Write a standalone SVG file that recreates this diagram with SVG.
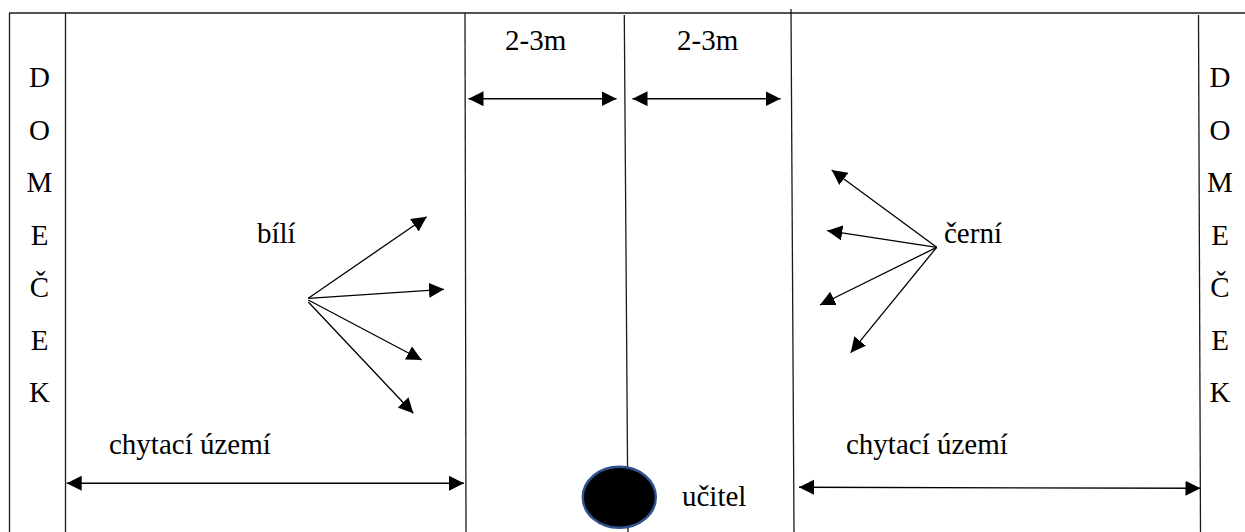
<svg xmlns="http://www.w3.org/2000/svg" width="1245" height="532" viewBox="0 0 1245 532">
  <style>
    .ln { stroke: #1a1a1a; stroke-width: 1.3; fill: none; }
    .ar { stroke: #000; stroke-width: 1.3; fill: none; marker-end: url(#head); }
    .dbl { stroke: #000; stroke-width: 1.4; fill: none; marker-start: url(#head); marker-end: url(#head); }
    .t { font-family: 'Liberation Serif', 'Times New Roman', serif; font-size: 29px; fill: #000; }
    .mid { text-anchor: middle; }
  </style>
  <defs>
    <marker id="head" markerUnits="userSpaceOnUse" markerWidth="16" markerHeight="16" refX="15" refY="7.5" orient="auto-start-reverse">
      <path d="M0,0 L15,7.5 L0,15 Z" fill="#000"/>
    </marker>
  </defs>

  <rect width="1245" height="532" fill="#fff"/>

  <!-- field boundaries -->
  <g id="field">
    <line class="ln" x1="9" y1="13" x2="1245" y2="13"/>
    <line class="ln" x1="9.5" y1="13" x2="9.5" y2="532"/>
    <line class="ln" x1="65.5" y1="13" x2="65.5" y2="532"/>
    <line class="ln" x1="465" y1="13" x2="466" y2="532"/>
    <line class="ln" x1="624.3" y1="15" x2="628" y2="532"/>
    <line class="ln" x1="791" y1="9" x2="794" y2="532"/>
    <line class="ln" x1="1198.5" y1="15" x2="1200.5" y2="532"/>
  </g>

  <!-- left home -->
  <g id="domecek-left" class="t mid">
    <text x="39.5" y="87">D</text>
    <text x="39.5" y="139.5">O</text>
    <text x="39.5" y="192">M</text>
    <text x="39.5" y="244.5">E</text>
    <text x="39.5" y="297">Č</text>
    <text x="39.5" y="349.5">E</text>
    <text x="39.5" y="402">K</text>
  </g>

  <!-- right home -->
  <g id="domecek-right" class="t mid">
    <text x="1220" y="87">D</text>
    <text x="1220" y="139.5">O</text>
    <text x="1220" y="192">M</text>
    <text x="1220" y="244.5">E</text>
    <text x="1220" y="297">Č</text>
    <text x="1220" y="349.5">E</text>
    <text x="1220" y="402">K</text>
  </g>

  <g id="labels" class="t">
    <text x="505" y="50">2-3m</text>
    <text x="677" y="50">2-3m</text>
    <text x="257" y="243">bílí</text>
    <text x="944" y="243">černí</text>
    <text x="109" y="454">chytací území</text>
    <text x="846" y="454">chytací území</text>
  </g>

  <!-- teacher -->
  <g id="ucitel">
    <ellipse cx="619.3" cy="497.3" rx="36.5" ry="30.5" fill="#000" stroke="#2f528f" stroke-width="2.5"/>
    <text class="t" x="682" y="506">učitel</text>
  </g>

  <g id="connectors">
    <!-- distances -->
    <line class="dbl" x1="468.5" y1="98.7" x2="616.5" y2="98.7"/>
    <line class="dbl" x1="632.5" y1="98.7" x2="780.5" y2="98.7"/>
    <line class="dbl" x1="66.7" y1="483.3" x2="464" y2="483.3"/>
    <line class="dbl" x1="799" y1="487.3" x2="1200.5" y2="488.3"/>

    <!-- white team runs -->
    <line class="ar" x1="308.3" y1="298.3" x2="426.7" y2="216.7"/>
    <line class="ar" x1="308.3" y1="298.3" x2="444" y2="289.3"/>
    <line class="ar" x1="308.3" y1="300" x2="421.7" y2="360"/>
    <line class="ar" x1="308.3" y1="302" x2="413.3" y2="413.3"/>

    <!-- black team runs -->
    <line class="ar" x1="936.7" y1="247.3" x2="831.7" y2="170"/>
    <line class="ar" x1="936.7" y1="247.3" x2="827.3" y2="230.7"/>
    <line class="ar" x1="936.7" y1="247.3" x2="820" y2="305"/>
    <line class="ar" x1="936.7" y1="247.3" x2="850.7" y2="352.7"/>
  </g>
</svg>
